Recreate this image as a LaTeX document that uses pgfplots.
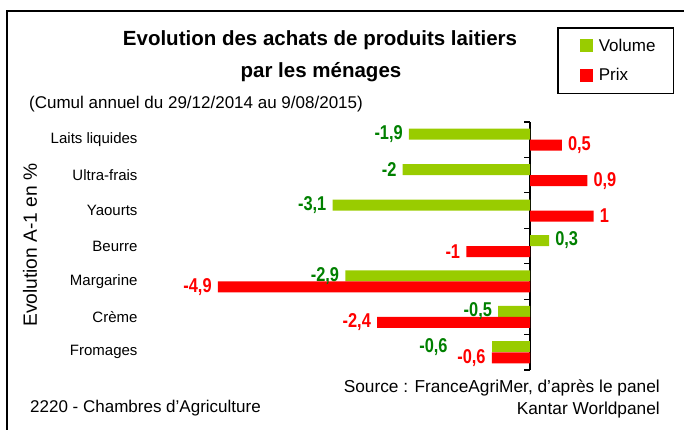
\documentclass[border=0pt]{standalone}
\usepackage{pgfplots}
\pgfplotsset{compat=1.18}
\usepackage{fontspec}
\setmainfont{Liberation Sans}
\newfontfamily\narrowbold[FakeStretch=0.82]{Liberation Sans}
\definecolor{vgreen}{RGB}{153,204,0}
\definecolor{lgreen}{RGB}{0,128,0}
\definecolor{vred}{RGB}{255,0,0}
\begin{document}
\begin{tikzpicture}[x=1pt,y=1pt]
\useasboundingbox (0,0) rectangle (684,-429);
\draw[line width=2pt] (7,-11) rectangle (700,-450);
\begin{axis}[
  at={(147.8pt,-370pt)}, anchor=south west,
  scale only axis, width=509.6pt, height=248pt,
  xmin=-6, xmax=2, ymin=0.5, ymax=7.5,
  axis x line=none, axis y line=center,
  axis line style={-, line width=1.5pt, black},
  ytick={1,...,7},
  yticklabels={Fromages,Crème,Margarine,Beurre,Yaourts,Ultra-frais,Laits liquides},
  major tick length=0pt,
  minor ytick={0.5,1.5,...,7.5},
  minor tick length=6pt, tick align=center,
  minor tick style={line width=1.2pt, black},
  yticklabel style={font=\fontsize{15}{18}\selectfont, anchor=east, xshift=-389pt},
  xbar, bar width=11pt,
  clip=false,
  point meta=x,
  nodes near coords,
  nodes near coords style={font=\narrowbold\bfseries\fontsize{20}{22}\selectfont, inner xsep=6pt},
  /pgf/number format/fixed, /pgf/number format/precision=1,
  /pgf/number format/use comma, /pgf/number format/assume math mode=true,
  legend style={at={(axis description cs:0.803,1.383)}, anchor=north west,
    draw=black, line width=1.5pt, font=\fontsize{17}{20}\selectfont,
    inner xsep=16pt, inner ysep=9pt, row sep=12pt,
    /tikz/every odd column/.append style={column sep=4pt}},
  legend cell align=left,
  legend image code/.code={\path (0pt,0pt); \fill[#1] (6pt,-6.5pt) rectangle (19pt,6.5pt);},
]
\addplot[fill=vgreen, draw=none, bar shift=5.5pt,
  every node near coord/.append style={text=lgreen}]
  coordinates {(-0.5,2) (-2.9,3) (0.3,4) (-3.1,5) (-2,6) (-1.9,7)};
\addplot[fill=vred, draw=none, bar shift=-5.5pt,
  every node near coord/.append style={text=vred}]
  coordinates {(-0.6,1) (-2.4,2) (-4.9,3) (-1,4) (1,5) (0.9,6) (0.5,7)};
\addplot[forget plot, fill=vgreen, draw=none, bar shift=5.5pt,
  every node near coord/.append style={text=lgreen, xshift=-38pt}]
  coordinates {(-0.6,1)};
\legend{Volume,Prix}
\end{axis}
\node[font=\bfseries\fontsize{20.5}{25}\selectfont] at (320,-40) {Evolution des achats de produits laitiers};
\node[font=\bfseries\fontsize{20.5}{25}\selectfont] at (321,-72) {par les ménages};
\node[anchor=west, inner sep=0pt, font=\fontsize{17}{20}\selectfont] at (29,-104) {(Cumul annuel du 29/12/2014 au 9/08/2015)};
\node[anchor=east, inner sep=0pt, font=\fontsize{17.3}{20}\selectfont] at (660,-388) {Source : FranceAgriMer, d'après le panel};
\node[anchor=east, inner sep=0pt, font=\fontsize{17.3}{20}\selectfont] at (660,-410) {Kantar Worldpanel};
\node[anchor=west, inner sep=0pt, font=\fontsize{17}{20}\selectfont] at (30,-408) {2220 - Chambres d'Agriculture};
\node[rotate=90, inner sep=0pt, font=\fontsize{19.2}{22}\selectfont] at (30,-245) {Evolution A-1 en \%};
\end{tikzpicture}
\end{document}
